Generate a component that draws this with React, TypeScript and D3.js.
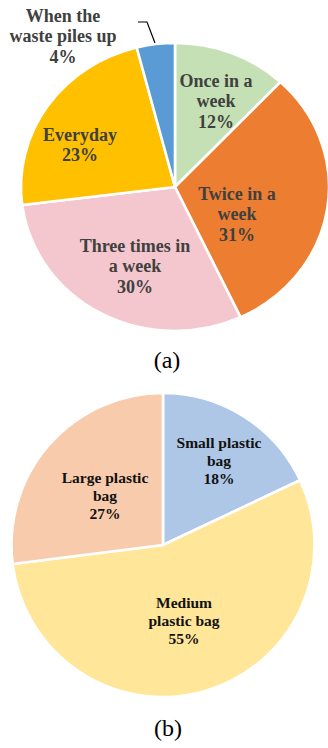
import React from "react";
import * as d3 from "d3";

// (a) How often household waste is disposed of
const frequencyCategories = [
  "Once in a week",
  "Twice in a week",
  "Three times in a week",
  "Everyday",
  "When the waste piles up",
];
const frequencyValues = [12, 31, 30, 23, 4];
const frequencyLabelLines = [
  ["Once in a", "week"],
  ["Twice in a", "week"],
  ["Three times in", "a week"],
  ["Everyday"],
  ["When the", "waste piles up"],
];

// (b) Bag size used for waste
const bagCategories = ["Small plastic bag", "Medium plastic bag", "Large plastic bag"];
const bagValues = [18, 55, 27];
const bagLabelLines = [
  ["Small plastic", "bag"],
  ["Medium", "plastic bag"],
  ["Large plastic", "bag"],
];

// styling / layout
const frequencyColors = ["#C5E0B4", "#ED7D31", "#F4C7CE", "#FFC000", "#5B9BD5"];
const bagColors = ["#AFC7E6", "#FFE699", "#F8CBAD"];
// label block centres, relative to each pie's centre
const frequencyLabelOffsets: [number, number][] = [
  [41, -86],
  [62, 27],
  [-40, 79],
  [-95, -42],
  [-112, -151],
];
const bagLabelOffsets: [number, number][] = [
  [56, -85],
  [21, 75],
  [-58, -50],
];

const FONT = "'Liberation Serif', 'Times New Roman', Times, serif";

type PieProps = {
  categories: string[];
  values: number[];
  colors: string[];
  lines: string[][];
  offsets: [number, number][];
  cx: number;
  cy: number;
  rx: number;
  ry: number;
  fontSize: number;
  lineHeight: number;
  textColor: string;
};

function Pie({ categories, values, colors, lines, offsets, cx, cy, rx, ry, fontSize, lineHeight, textColor }: PieProps) {
  const pie = d3
    .pie<number>()
    .sort(null)
    .value((d) => d);
  const arcs = pie(values);
  const arc = d3.arc<d3.PieArcDatum<number>>().innerRadius(0).outerRadius(ry);
  const color = d3.scaleOrdinal<string, string>().domain(categories).range(colors);
  const total = d3.sum(values);

  return (
    <g>
      <g transform={`translate(${cx},${cy}) scale(${rx / ry},1)`}>
        {arcs.map((a, i) => (
          <path
            key={categories[i]}
            d={arc(a) || ""}
            fill={color(categories[i])}
            stroke="#ffffff"
            strokeWidth={2.6}
            strokeLinejoin="round"
            vectorEffect="non-scaling-stroke"
          />
        ))}
      </g>
      {arcs.map((a, i) => {
        const textLines = [...lines[i], `${Math.round((a.data / total) * 100)}%`];
        const [ox, oy] = offsets[i];
        const top = cy + oy - ((textLines.length - 1) * lineHeight) / 2;
        return (
          <text
            key={`label-${categories[i]}`}
            x={cx + ox}
            textAnchor="middle"
            fontFamily={FONT}
            fontWeight="bold"
            fontSize={fontSize}
            fill={textColor}
          >
            {textLines.map((t, j) => (
              <tspan key={j} x={cx + ox} y={top + j * lineHeight} dominantBaseline="central">
                {t}
              </tspan>
            ))}
          </text>
        );
      })}
    </g>
  );
}

export default function App() {
  const leader = d3.line()([
    [138, 22],
    [147, 22],
    [155, 43],
  ]);
  return (
    <svg
      width={328}
      height={748}
      viewBox="0 0 328 748"
      style={{ position: "absolute", left: 0, top: 0, background: "#ffffff" }}
    >
      <rect width={328} height={748} fill="#ffffff" />
      <Pie
        categories={frequencyCategories}
        values={frequencyValues}
        colors={frequencyColors}
        lines={frequencyLabelLines}
        offsets={frequencyLabelOffsets}
        cx={175}
        cy={187}
        rx={154}
        ry={144}
        fontSize={18}
        lineHeight={20.5}
        textColor="#404040"
      />
      <path d={leader || ""} fill="none" stroke="#000000" strokeWidth={1.2} />
      <text x={167} y={368} textAnchor="middle" fontFamily={FONT} fontSize={24} fill="#000000">
        (a)
      </text>

      <Pie
        categories={bagCategories}
        values={bagValues}
        colors={bagColors}
        lines={bagLabelLines}
        offsets={bagLabelOffsets}
        cx={163}
        cy={545}
        rx={151.5}
        ry={152}
        fontSize={15.5}
        lineHeight={18}
        textColor="#111111"
      />
      <text x={168} y={736} textAnchor="middle" fontFamily={FONT} fontSize={24} fill="#000000">
        (b)
      </text>
    </svg>
  );
}
